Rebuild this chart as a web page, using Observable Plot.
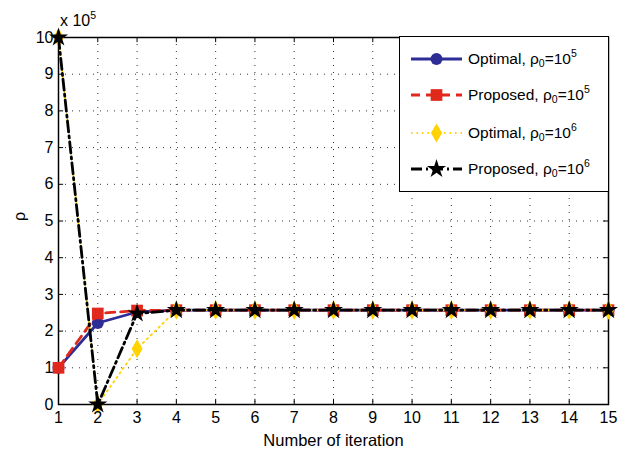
<!DOCTYPE html>
<html><head><meta charset="utf-8">
<script src="https://cdn.jsdelivr.net/npm/d3@7"></script>
<script src="https://cdn.jsdelivr.net/npm/@observablehq/plot@0.6"></script>
<style>
body{margin:0;background:#fff;font-family:"Liberation Sans",Arial,Helvetica,sans-serif;}
#wrap{position:relative;width:619px;height:458px;}
#wrap svg.plot{position:absolute;left:0;top:0;}
#legend{position:absolute;left:399px;top:36px;width:210px;height:156px;border:1.3px solid #000;background:#fff;box-sizing:border-box;}
.row{position:absolute;left:0;height:24px;width:208px;}
.row svg{position:absolute;left:0;top:0;}
.row span{position:absolute;left:68px;top:3px;font-size:15.5px;white-space:nowrap;color:#000;}
sub{font-size:10.5px;vertical-align:-3px;line-height:0;}
sup{font-size:10.5px;vertical-align:7px;line-height:0;}
#scale{position:absolute;left:60px;top:13px;font-size:16px;line-height:1;}
</style></head>
<body><div id="wrap"></div>
<script>
// values in units of 10^5
const iterations = [1,2,3,4,5,6,7,8,9,10,11,12,13,14,15];
const optimal1e5  = [1, 2.22, 2.52, 2.57, 2.57, 2.57, 2.57, 2.57, 2.57, 2.57, 2.57, 2.57, 2.57, 2.57, 2.57];
const proposed1e5 = [1, 2.48, 2.56, 2.57, 2.57, 2.57, 2.57, 2.57, 2.57, 2.57, 2.57, 2.57, 2.57, 2.57, 2.57];
const optimal1e6  = [10, 0, 1.52, 2.57, 2.57, 2.57, 2.57, 2.57, 2.57, 2.57, 2.57, 2.57, 2.57, 2.57, 2.57];
const proposed1e6 = [10, 0, 2.48, 2.57, 2.57, 2.57, 2.57, 2.57, 2.57, 2.57, 2.57, 2.57, 2.57, 2.57, 2.57];
const seriesNames = ["Optimal, ρ0=10^5", "Proposed, ρ0=10^5", "Optimal, ρ0=10^6", "Proposed, ρ0=10^6"];
const xTicks = [1,2,3,4,5,6,7,8,9,10,11,12,13,14,15];
const yTicks = [0,1,2,3,4,5,6,7,8,9,10];

const styles = [
  {color:"#2e2d95", width:2.8, dash:null, symbol:"circle", r:6, fill:"#2e2d95"},
  {color:"#e0281c", width:2.8, dash:"9,6", symbol:"square", r:6.6, fill:"#e0281c"},
  {color:"#ffd200", width:1.8, dash:"1.5,4", symbol:"diamond", r:5.8, fill:"#ffd200"},
  {color:"#000000", width:2.8, dash:"11,4,2,4", symbol:"star", r:6, fill:"#000000"}
];
const allSeries = [optimal1e5, proposed1e5, optimal1e6, proposed1e6];
const rows = [];
allSeries.forEach((vals, s) => iterations.forEach((it, i) => rows.push({s, x: it, y: vals[i]})));

const marks = [];
// grid
marks.push(Plot.ruleX(xTicks.slice(1,-1), {x: d=>d, stroke:"#333", strokeWidth:1, strokeDasharray:"1,6"}));
marks.push(Plot.ruleY(yTicks.slice(1,-1), {y: d=>d, stroke:"#333", strokeWidth:1, strokeDasharray:"1,6"}));
// inward ticks
marks.push(Plot.ruleX(xTicks, {x: d=>d, y1: 0, y2: 0.14, stroke:"#000"}));
marks.push(Plot.ruleX(xTicks, {x: d=>d, y1: 10, y2: 9.86, stroke:"#000"}));
marks.push(Plot.ruleY(yTicks, {y: d=>d, x1: 1, x2: 1.13, stroke:"#000"}));
marks.push(Plot.ruleY(yTicks, {y: d=>d, x1: 15, x2: 14.87, stroke:"#000"}));
marks.push(Plot.frame({stroke:"#000", strokeWidth:1.5}));
// series
styles.forEach((st, s) => {
  const d = rows.filter(r => r.s === s);
  marks.push(Plot.line(d, {x:"x", y:"y", stroke: st.color, strokeWidth: st.width, strokeDasharray: st.dash}));
  marks.push(Plot.dot(d, {x:"x", y:"y", symbol: st.symbol, r: st.r, fill: st.fill, stroke: "none"}));
});
// tick labels
marks.push(Plot.text(xTicks, {x: d=>d, y: 0, text: d=>String(d), dy: 13, fontSize: 16, fill:"#000"}));
marks.push(Plot.text(yTicks, {x: 1, y: d=>d, text: d=>String(d), dx: -5, textAnchor:"end", fontSize: 16, fill:"#000"}));
// axis titles
marks.push(Plot.text(["Number of iteration"], {frameAnchor:"bottom", dy: 41, fontSize: 16.5, fill:"#000"}));
marks.push(Plot.text(["ρ"], {frameAnchor:"left", dx: -39, rotate: -90, fontSize: 16, fill:"#000"}));

const chart = Plot.plot({
  width: 619, height: 458,
  marginLeft: 58, marginRight: 11, marginTop: 37, marginBottom: 54,
  x: {domain: [1, 15], axis: null},
  y: {domain: [0, 10], axis: null},
  style: {fontFamily: '"Liberation Sans", Arial, Helvetica, sans-serif', background: "#fff", overflow: "visible"},
  marks
});
const wrap = document.getElementById("wrap");
wrap.appendChild(chart);

const scale = document.createElement("div");
scale.id = "scale";
scale.innerHTML = "x 10<sup>5</sup>";
wrap.appendChild(scale);

// legend
const legend = document.createElement("div");
legend.id = "legend";
const rowTops = [10, 46, 84, 120];
seriesNames.forEach((name, s) => {
  const st = styles[s];
  const row = document.createElement("div");
  row.className = "row";
  row.style.top = rowTops[s] + "px";
  const svg = d3.create("svg").attr("width", 66).attr("height", 24);
  svg.append("line").attr("x1", 11).attr("x2", 62).attr("y1", 12).attr("y2", 12)
    .attr("stroke", st.color).attr("stroke-width", st.width)
    .attr("stroke-dasharray", st.dash);
  const sym = {circle: d3.symbolCircle, square: d3.symbolSquare, diamond: d3.symbolDiamond, star: d3.symbolStar}[st.symbol];
  svg.append("path").attr("transform", "translate(36.5,12)")
    .attr("d", d3.symbol(sym, Math.PI * st.r * st.r)()).attr("fill", st.fill);
  row.appendChild(svg.node());
  const [label, pow] = name.split("^");
  const [pre, sub] = label.split("ρ0");
  const span = document.createElement("span");
  span.innerHTML = pre + "ρ<sub>0</sub>" + sub + "<sup>" + pow + "</sup>";
  row.appendChild(span);
  legend.appendChild(row);
});
wrap.appendChild(legend);
</script>
</body></html>
